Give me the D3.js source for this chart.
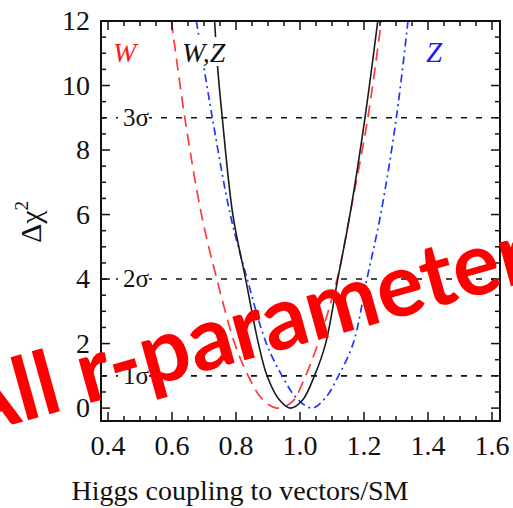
<!DOCTYPE html>
<html>
<head>
<meta charset="utf-8">
<script src="https://cdn.jsdelivr.net/npm/d3@7/dist/d3.min.js"></script>
<style>
  body { margin: 0; background: #fff; }
  svg { display: block; }
</style>
</head>
<body>
<svg id="chart" width="513" height="508"></svg>
<script>
// values
var xTicks = [0.4, 0.6, 0.8, 1.0, 1.2, 1.4, 1.6];
var xTickLabels = ["0.4", "0.6", "0.8", "1.0", "1.2", "1.4", "1.6"];
var yTicks = [0, 2, 4, 6, 8, 10, 12];
var sigmaLevels = [1, 4, 9];
var sigmaLabels = ["1σ", "2σ", "3σ"];

// W only (red, dashed)
var wX = [0.598, 0.640, 0.692, 0.740, 0.796, 0.838, 0.880, 0.928, 0.976, 1.013, 1.056, 1.116, 1.156, 1.212, 1.254];
var wY = [12, 9, 6, 4, 2, 1, 0.3, 0, 0.2, 0.9, 2, 4, 6, 9, 12];
// W,Z combined (black, solid)
var wzX = [0.733, 0.743, 0.757, 0.790, 0.830, 0.870, 0.897, 0.932, 0.970, 1.008, 1.045, 1.080, 1.118, 1.156, 1.203, 1.243];
var wzY = [12, 10.5, 9, 6, 4, 2, 1, 0.3, 0, 0.25, 1, 2, 4, 6, 9, 12];
// Z only (blue, dot-dashed)
var zX = [0.676, 0.726, 0.782, 0.835, 0.895, 0.944, 0.990, 1.038, 1.082, 1.120, 1.166, 1.209, 1.252, 1.301, 1.3375];
var zY = [12, 9, 6, 4, 2, 1, 0.3, 0, 0.35, 1, 2, 4, 6, 9, 12];

var svg = d3.select("#chart");
var plotL = 101, plotR = 500, plotT = 21, plotB = 421;

var x = d3.scaleLinear().domain([0.378, 1.625]).range([plotL, plotR]);
var y = d3.scaleLinear().domain([-0.4, 12]).range([plotB, plotT]);

var serif = "'Liberation Serif', 'DejaVu Serif', serif";

svg.append("defs").append("clipPath").attr("id", "plot")
    .append("rect")
    .attr("x", plotL).attr("y", plotT)
    .attr("width", plotR - plotL).attr("height", plotB - plotT);

// sigma lines
var g = svg.append("g").attr("clip-path", "url(#plot)");
g.selectAll("line.sig").data(sigmaLevels).enter().append("line")
    .attr("class", "sig")
    .attr("x1", plotL).attr("x2", plotR)
    .attr("y1", function(d){ return y(d); })
    .attr("y2", function(d){ return y(d); })
    .attr("stroke", "#111")
    .attr("stroke-width", 1.6)
    .attr("stroke-dasharray", "6,9");

// curves
var line = d3.line()
    .x(function(d){ return x(d[0]); })
    .y(function(d){ return y(d[1]); })
    .curve(d3.curveCatmullRom.alpha(0.5));

function pts(xs, ys) { return xs.map(function(v, i){ return [v, ys[i]]; }); }

g.append("path").datum(pts(wX, wY))
    .attr("d", line).attr("fill", "none")
    .attr("stroke", "#ff3a3a").attr("stroke-width", 1.7)
    .attr("stroke-dasharray", "12,7");
g.append("path").datum(pts(zX, zY))
    .attr("d", line).attr("fill", "none")
    .attr("stroke", "#2535ff").attr("stroke-width", 1.7)
    .attr("stroke-dasharray", "8,4,2,4");
g.append("path").datum(pts(wzX, wzY))
    .attr("d", line).attr("fill", "none")
    .attr("stroke", "#1a1a1a").attr("stroke-width", 1.6);

// sigma labels with white background
sigmaLevels.forEach(function(d, i){
    svg.append("rect")
        .attr("x", 118).attr("y", y(d) - 10)
        .attr("width", 31).attr("height", 20)
        .attr("fill", "#fff");
    svg.append("text")
        .attr("x", 123).attr("y", y(d) + 8)
        .attr("font-family", serif).attr("font-size", 25)
        .attr("fill", "#111")
        .text(sigmaLabels[i]);
});

// legend labels
svg.append("rect").attr("x", 180).attr("y", 37).attr("width", 54).attr("height", 29).attr("fill", "#fff");
svg.append("text").attr("x", 113).attr("y", 62)
    .attr("font-family", serif).attr("font-style", "italic").attr("font-size", 28)
    .attr("fill", "#ff1a1a").text("W");
svg.append("text").attr("x", 182).attr("y", 62)
    .attr("font-family", serif).attr("font-style", "italic").attr("font-size", 28)
    .attr("fill", "#111").text("W,Z");
svg.append("text").attr("x", 426).attr("y", 62)
    .attr("font-family", serif).attr("font-style", "italic").attr("font-size", 29)
    .attr("fill", "#1a1aff").text("Z");

// frame and ticks
svg.append("rect")
    .attr("x", plotL).attr("y", plotT)
    .attr("width", plotR - plotL).attr("height", plotB - plotT)
    .attr("fill", "none").attr("stroke", "#111").attr("stroke-width", 2);

var xMinor = d3.range(0.4, 1.6001, 0.05);
var yMinor = d3.range(0, 12.001, 0.5);
function isMajorX(v){ return Math.abs(v * 5 - Math.round(v * 5)) < 1e-6; }
function isMajorY(v){ return Math.abs(v / 2 - Math.round(v / 2)) < 1e-6; }

var ticks = svg.append("g").attr("stroke", "#111").attr("stroke-width", 1.5);
xMinor.forEach(function(v){
    var len = isMajorX(v) ? 9 : 5;
    ticks.append("line").attr("x1", x(v)).attr("x2", x(v)).attr("y1", plotB).attr("y2", plotB - len);
    ticks.append("line").attr("x1", x(v)).attr("x2", x(v)).attr("y1", plotT).attr("y2", plotT + len);
});
yMinor.forEach(function(v){
    var len = isMajorY(v) ? 9 : 5;
    ticks.append("line").attr("y1", y(v)).attr("y2", y(v)).attr("x1", plotL).attr("x2", plotL + len);
    ticks.append("line").attr("y1", y(v)).attr("y2", y(v)).attr("x1", plotR).attr("x2", plotR - len);
});

// tick labels
svg.selectAll("text.xt").data(xTicks).enter().append("text")
    .attr("class", "xt")
    .attr("x", function(d){ return x(d); }).attr("y", 455)
    .attr("text-anchor", "middle")
    .attr("font-family", serif).attr("font-size", 28).attr("fill", "#111")
    .text(function(d, i){ return xTickLabels[i]; });
svg.selectAll("text.yt").data(yTicks).enter().append("text")
    .attr("class", "yt")
    .attr("x", 90).attr("y", function(d){ return y(d) + 9; })
    .attr("text-anchor", "end")
    .attr("font-family", serif).attr("font-size", 28).attr("fill", "#111")
    .text(function(d){ return d; });

// axis titles
svg.append("text").attr("x", 240).attr("y", 500)
    .attr("text-anchor", "middle")
    .attr("font-family", serif).attr("font-size", 28).attr("fill", "#111")
    .text("Higgs coupling to vectors/SM");

var yt = svg.append("text")
    .attr("transform", "translate(41,222) rotate(-90)")
    .attr("text-anchor", "middle")
    .attr("font-family", serif).attr("font-size", 30).attr("fill", "#111");
yt.append("tspan").text("Δχ");
yt.append("tspan").attr("font-size", 19).attr("dy", -13).text("2");

// overlay stamp
svg.append("text")
    .attr("transform", "translate(-36,438) rotate(-15.5)")
    .attr("font-family", "Lato, 'Open Sans', sans-serif")
    .attr("font-weight", 700).attr("font-size", 88)
    .attr("fill", "#ff0000")
    .text("All r-parameters");
</script>
</body>
</html>
